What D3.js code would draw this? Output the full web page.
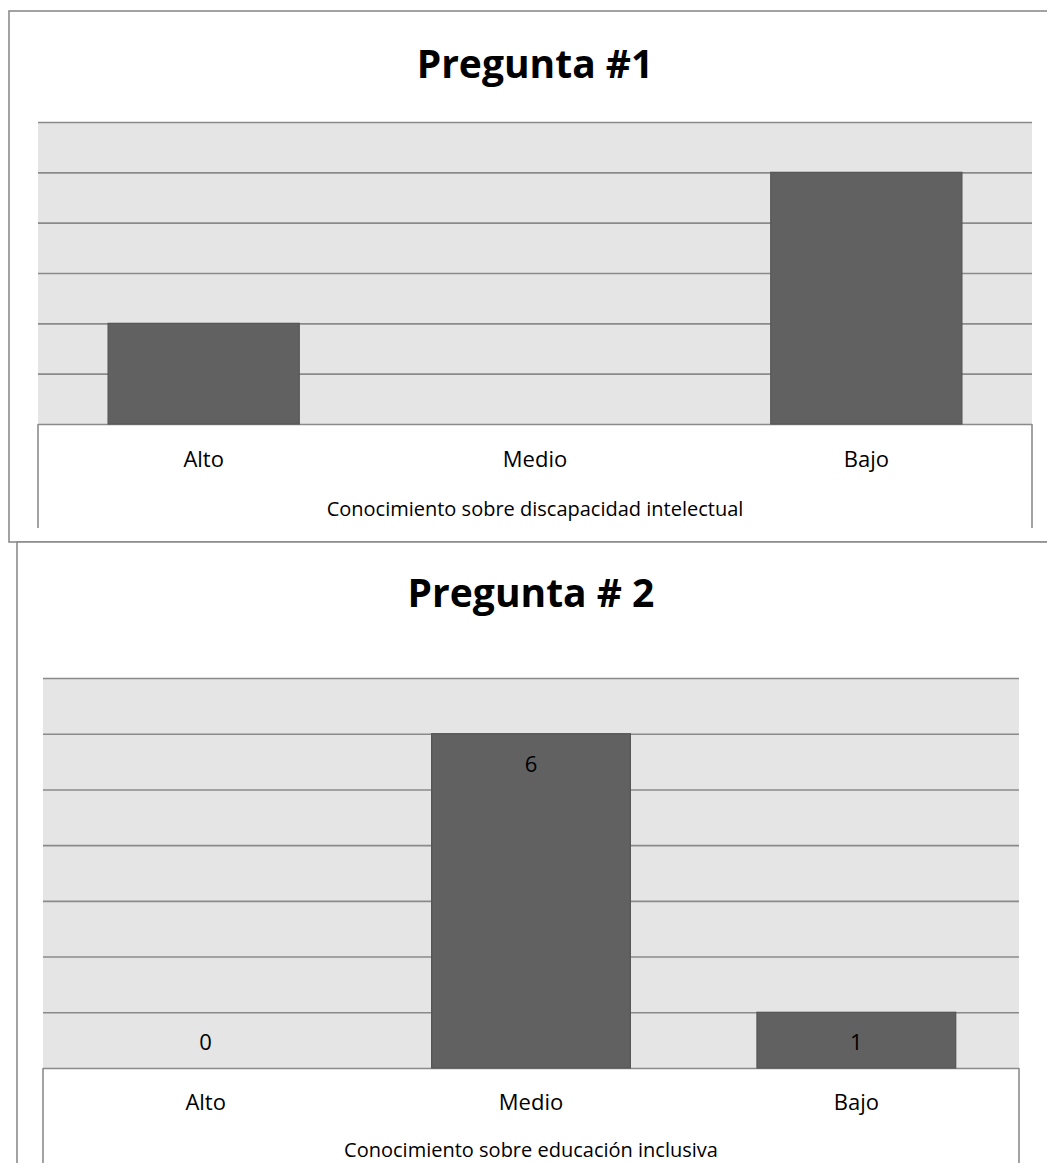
<!DOCTYPE html>
<html>
<head>
<meta charset="utf-8">
<script src="https://cdn.jsdelivr.net/npm/d3@7/dist/d3.min.js"></script>
<style>
  body { margin: 0; background: #fff; }
  text { font-family: "Open Sans", sans-serif; fill: #000; }
</style>
</head>
<body>
<div id="chart-display"></div>
<script>
// data
const categories = ["Alto", "Medio", "Bajo"];
const q1Values = [2, 0, 5];
const q2Values = [0, 6, 1];
const q1Title = "Pregunta #1";
const q2Title = "Pregunta # 2";
const q1AxisTitle = "Conocimiento sobre discapacidad intelectual";
const q2AxisTitle = "Conocimiento sobre educación inclusiva";
const q1Max = 6, q2Max = 7;

const width = 1047, height = 1163;
const borderCol = "#8c8c8c", gridCol = "#8a8a8a", plotFill = "#e5e5e5",
      barFill = "#616161", barStroke = "#555555";

let svg = d3.select("#chart-display")
    .append("svg")
    .attr("width", width)
    .attr("height", height);

function drawChart(opt) {
    let g = svg.append("g");

    // outer chart frame (runs off the page on the right / bottom)
    g.append("rect")
        .attr("x", opt.box.x)
        .attr("y", opt.box.y)
        .attr("width", width - opt.box.x + 20)
        .attr("height", opt.box.h)
        .attr("fill", "#fff")
        .attr("stroke", borderCol)
        .attr("stroke-width", 1.6);

    g.append("text")
        .attr("x", (opt.left + opt.right) / 2)
        .attr("y", opt.titleY)
        .attr("text-anchor", "middle")
        .style("font-size", "39px")
        .style("font-weight", "bold")
        .text(opt.title);

    let x = d3.scaleBand()
        .domain(categories)
        .range([opt.left, opt.right])
        .paddingInner(1 - opt.barRatio)
        .paddingOuter((1 - opt.barRatio) / 2);

    let y = d3.scaleLinear()
        .domain([0, opt.max])
        .range([opt.bottom, opt.top]);

    g.append("rect")
        .attr("x", opt.left)
        .attr("y", opt.top)
        .attr("width", opt.right - opt.left)
        .attr("height", opt.bottom - opt.top)
        .attr("fill", plotFill);

    // gridlines
    let grid = g.append("g")
        .attr("transform", `translate(${opt.left},0)`)
        .call(d3.axisLeft(y).ticks(opt.max).tickSize(-(opt.right - opt.left)).tickFormat(""));
    grid.select(".domain").remove();
    grid.selectAll("line").attr("stroke", gridCol).attr("stroke-width", 1.6);

    // category area below the plot
    g.append("line")
        .attr("x1", opt.left).attr("x2", opt.left)
        .attr("y1", opt.bottom).attr("y2", opt.catBottom)
        .attr("stroke", borderCol).attr("stroke-width", 1.6);
    g.append("line")
        .attr("x1", opt.right).attr("x2", opt.right)
        .attr("y1", opt.bottom).attr("y2", opt.catBottom)
        .attr("stroke", borderCol).attr("stroke-width", 1.6);

    let data = categories.map((c, i) => ({cat: c, val: opt.values[i]}));

    g.append("g")
        .selectAll("rect")
        .data(data.filter(d => d.val > 0))
        .enter()
        .append("rect")
        .attr("x", d => x(d.cat))
        .attr("y", d => y(d.val))
        .attr("width", x.bandwidth())
        .attr("height", d => y(0) - y(d.val))
        .attr("fill", barFill)
        .attr("stroke", barStroke)
        .attr("stroke-width", 1.2);

    if (opt.labels) {
        g.append("g")
            .selectAll("text")
            .data(data)
            .enter()
            .append("text")
            .attr("x", d => x(d.cat) + x.bandwidth() / 2)
            .attr("y", d => d.val > 0 ? y(d.val) + 38 : y(0) - 18)
            .attr("text-anchor", "middle")
            .style("font-size", "22px")
            .text(d => d.val);
    }

    let xAxis = g.append("g")
        .attr("transform", `translate(0,${opt.bottom})`)
        .call(d3.axisBottom(x).tickSize(0).tickPadding(0));
    xAxis.select(".domain").remove();
    xAxis.selectAll("text")
        .attr("dy", null)
        .attr("y", opt.catY - opt.bottom)
        .style("font-size", "22px")
        .style("font-family", "Open Sans, sans-serif")
        .attr("fill", "#000");

    g.append("text")
        .attr("x", (opt.left + opt.right) / 2)
        .attr("y", opt.axisTitleY)
        .attr("text-anchor", "middle")
        .style("font-size", "20px")
        .text(opt.axisTitle);
}

drawChart({
    box: {x: 9, y: 11, h: 531},
    title: q1Title, titleY: 78,
    left: 38, right: 1032, top: 122, bottom: 424,
    max: q1Max, values: q1Values, barRatio: 0.577,
    catBottom: 528, catY: 467, axisTitleY: 516,
    axisTitle: q1AxisTitle, labels: false
});

drawChart({
    box: {x: 17, y: 542, h: 700},
    title: q2Title, titleY: 607,
    left: 43, right: 1019, top: 678, bottom: 1068,
    max: q2Max, values: q2Values, barRatio: 0.611,
    catBottom: 1170, catY: 1110, axisTitleY: 1157,
    axisTitle: q2AxisTitle, labels: true
});
</script>
</body>
</html>
